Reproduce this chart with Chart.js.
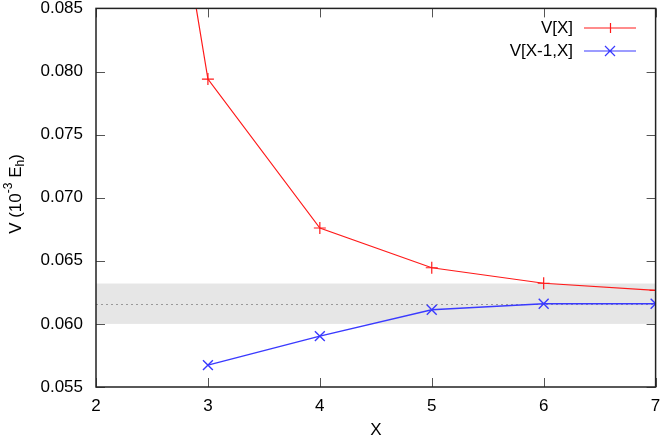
<!DOCTYPE html>
<html>
<head>
<title>V vs X</title>
<script src="https://cdn.jsdelivr.net/npm/chart.js"></script>
<style>
body { margin:0; background:white; }
#wrap { width:664px; height:437px; }
</style>
</head>
<body>
<div id="wrap"><canvas id="chart" width="664" height="437"></canvas></div>
<script>
// ---------------- DATA ----------------
const xValues   = [2, 3, 4, 5, 6, 7];
const vX        = [0.1332, 0.0794, 0.0676, 0.06445, 0.06322, 0.06265];
const xPair     = [3, 4, 5, 6, 7];
const vPair     = [0.05673, 0.05903, 0.06112, 0.06160, 0.06160];
const xTicks    = [2, 3, 4, 5, 6, 7];
const yTicks    = [0.055, 0.060, 0.065, 0.070, 0.075, 0.080, 0.085];
const bandLow   = 0.0600;
const bandHigh  = 0.0632;
const refValue  = 0.06158;
const seriesLabels = ["V[X]", "V[X-1,X]"];

const FONT = "'Liberation Sans', Arial, sans-serif";
const RED = "#ff1a1a";
const BLUE = "#3a3aff";

// ---------------- BAND + FRAME + LEGEND ----------------
const gnuplotLook = {
    id: "gnuplotLook",
    beforeDatasetsDraw(chart){
        const {ctx, chartArea:a, scales:{x, y}} = chart;
        ctx.save();
        // shaded band
        ctx.fillStyle = "#e6e6e6";
        const yt = y.getPixelForValue(bandHigh), yb = y.getPixelForValue(bandLow);
        ctx.fillRect(a.left, yt, a.right - a.left, yb - yt);
        // dotted reference line
        ctx.strokeStyle = "#999";
        ctx.lineWidth = 1;
        ctx.setLineDash([2, 3]);
        const yr = Math.round(y.getPixelForValue(refValue)) + 0.5;
        ctx.beginPath();
        ctx.moveTo(a.left, yr);
        ctx.lineTo(a.right, yr);
        ctx.stroke();
        ctx.restore();
    },
    afterDraw(chart){
        const {ctx, chartArea:a, scales:{x, y}} = chart;
        ctx.save();
        // ticks pointing inward, mirrored
        ctx.strokeStyle = "#555";
        ctx.lineWidth = 1;
        ctx.beginPath();
        xTicks.forEach(v=>{
            const px = Math.round(x.getPixelForValue(v)) + 0.5;
            ctx.moveTo(px, a.bottom); ctx.lineTo(px, a.bottom - 9);
            ctx.moveTo(px, a.top); ctx.lineTo(px, a.top + 9);
        });
        yTicks.forEach(v=>{
            const py = Math.round(y.getPixelForValue(v)) + 0.5;
            ctx.moveTo(a.left, py); ctx.lineTo(a.left + 9, py);
            ctx.moveTo(a.right, py); ctx.lineTo(a.right - 9, py);
        });
        ctx.stroke();
        // frame
        ctx.strokeStyle = "#222";
        ctx.lineWidth = 1.5;
        ctx.strokeRect(a.left, a.top, a.right - a.left, a.bottom - a.top);

        // axis titles
        ctx.fillStyle = "#000";
        ctx.font = "17px " + FONT;
        ctx.textAlign = "center";
        ctx.textBaseline = "middle";
        ctx.fillText("X", (a.left + a.right) / 2, 430);

        ctx.translate(16, 194);
        ctx.rotate(-Math.PI / 2);
        const parts = [
            {t:"V (10", s:17, dy:0},
            {t:"-3", s:12, dy:-7},
            {t:" E", s:17, dy:0},
            {t:"h", s:12, dy:5},
            {t:")", s:17, dy:0}
        ];
        let w = 0;
        parts.forEach(p=>{ ctx.font = p.s + "px " + FONT; w += ctx.measureText(p.t).width; });
        let cx = -w / 2;
        ctx.textAlign = "left";
        parts.forEach(p=>{
            ctx.font = p.s + "px " + FONT;
            ctx.fillText(p.t, cx, p.dy);
            cx += ctx.measureText(p.t).width;
        });
        ctx.restore();

        // legend
        ctx.save();
        ctx.font = "17px " + FONT;
        ctx.textAlign = "right";
        ctx.textBaseline = "middle";
        const rows = [
            {label: seriesLabels[0], color: RED, y: 28, mark: "+"},
            {label: seriesLabels[1], color: BLUE, y: 51, mark: "x"}
        ];
        rows.forEach(r=>{
            ctx.fillStyle = "#000";
            ctx.fillText(r.label, 573, r.y);
            ctx.strokeStyle = r.color;
            ctx.lineWidth = 1.2;
            ctx.beginPath();
            ctx.moveTo(584, r.y); ctx.lineTo(636, r.y);
            if(r.mark === "+"){
                ctx.moveTo(610.5, r.y - 5); ctx.lineTo(610.5, r.y + 5);
            } else {
                ctx.moveTo(605, r.y - 5); ctx.lineTo(615, r.y + 5);
                ctx.moveTo(615, r.y - 5); ctx.lineTo(605, r.y + 5);
            }
            ctx.stroke();
        });
        ctx.restore();
    }
};

// ---------------- CHART ----------------
new Chart(document.getElementById("chart"), {
    type: "line",
    data: {
        datasets: [
            {
                label: seriesLabels[0],
                data: xValues.map((v,i)=>({x:v, y:vX[i]})),
                borderColor: RED,
                borderWidth: 1.2,
                pointStyle: "cross",
                pointRadius: 6,
                pointBorderColor: RED,
                pointBorderWidth: 1.2,
                tension: 0,
                fill: false
            },
            {
                label: seriesLabels[1],
                data: xPair.map((v,i)=>({x:v, y:vPair[i]})),
                borderColor: BLUE,
                borderWidth: 1.4,
                pointStyle: "crossRot",
                pointRadius: 7,
                pointBorderColor: BLUE,
                pointBorderWidth: 1.4,
                tension: 0,
                fill: false
            }
        ]
    },
    options: {
        responsive: false,
        animation: false,
        layout: { padding: { top: 7, right: 6, left: 0, bottom: 0 } },
        plugins: { legend: { display: false }, tooltip: { enabled: false } },
        scales: {
            x: {
                type: "linear",
                min: 2, max: 7,
                afterBuildTicks: s => { s.ticks = xTicks.map(v=>({value:v})); },
                afterFit: s => { s.height = 50; s.paddingLeft = 0; s.paddingRight = 0; },
                grid: { display: false, drawTicks: false },
                border: { display: false },
                ticks: { color: "#000", padding: 9, font: { size: 17, family: FONT } }
            },
            y: {
                type: "linear",
                min: 0.055, max: 0.085,
                afterBuildTicks: s => { s.ticks = yTicks.map(v=>({value:v})); },
                afterFit: s => { s.width = 96; s.paddingTop = 0; s.paddingBottom = 0; },
                grid: { display: false, drawTicks: false },
                border: { display: false },
                ticks: { color: "#000", padding: 13, font: { size: 17, family: FONT },
                    callback: v => v.toFixed(3) }
            }
        }
    },
    plugins: [gnuplotLook]
});
</script>
</body>
</html>
